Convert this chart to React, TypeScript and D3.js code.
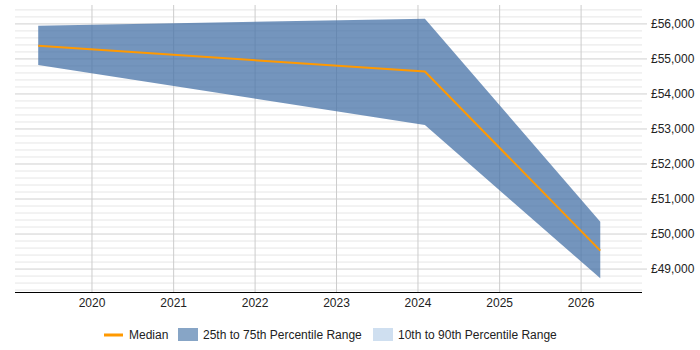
import React from 'react';
import * as d3 from 'd3';

// Salary percentiles by period end date
const dates = ['2019-05-05', '2024-02-01', '2026-03-28'];
const p25 = [54830, 53115, 48735];
const median = [55375, 54640, 49525];
const p75 = [55945, 56150, 50350];

const yearTicks = [2020, 2021, 2022, 2023, 2024, 2025, 2026];
const salaryTicks = [49000, 50000, 51000, 52000, 53000, 54000, 55000, 56000];

const legendItems = ['Median', '25th to 75th Percentile Range', '10th to 90th Percentile Range'];

const width = 700;
const height = 350;
const margin = { top: 5, right: 58, bottom: 58, left: 15 };

const parse = d3.timeParse('%Y-%m-%d');

export default function App() {
  const innerRight = width - margin.right;
  const innerBottom = height - margin.bottom;

  const x = d3
    .scaleTime()
    .domain([new Date(2019, 0, 21), new Date(2026, 9, 1)])
    .range([margin.left, innerRight]);

  const y = d3.scaleLinear().domain([48345, 56540]).range([innerBottom, margin.top]);

  const rows = dates.map((d, i) => ({
    date: parse(d) as Date,
    lo: p25[i],
    mid: median[i],
    hi: p75[i],
  }));

  const area = d3
    .area<(typeof rows)[number]>()
    .x((d) => x(d.date))
    .y0((d) => y(d.lo))
    .y1((d) => y(d.hi));

  const line = d3
    .line<(typeof rows)[number]>()
    .x((d) => x(d.date))
    .y((d) => y(d.mid));

  // minor grid every 200
  const minor = d3.range(48400, 56500, 200).filter((v) => v % 1000 !== 0);
  const fmt = (v: number) => '£' + d3.format(',')(v);

  return (
    <svg
      width={width}
      height={height}
      style={{ position: 'absolute', left: 0, top: 0, fontFamily: 'Liberation Sans, Arial, sans-serif' }}
    >
      <rect width={width} height={height} fill="#fff" />
      {minor.map((v) => (
        <line key={v} x1={margin.left} x2={innerRight} y1={y(v)} y2={y(v)} stroke="#e6e6e6" strokeWidth={1} />
      ))}
      {salaryTicks.map((v) => (
        <line key={v} x1={margin.left} x2={innerRight + 5} y1={y(v)} y2={y(v)} stroke="#d0d0d0" strokeWidth={1} />
      ))}
      {yearTicks.map((yr) => (
        <line
          key={yr}
          x1={x(new Date(yr, 0, 1))}
          x2={x(new Date(yr, 0, 1))}
          y1={margin.top}
          y2={innerBottom}
          stroke="#cccccc"
          strokeWidth={1}
        />
      ))}
      <path d={area(rows) || ''} fill="#4572a7" fillOpacity={0.75} />
      <path d={line(rows) || ''} fill="none" stroke="#ff9900" strokeWidth={2} />
      <line x1={margin.left} x2={innerRight} y1={innerBottom + 0.5} y2={innerBottom + 0.5} stroke="#000" strokeWidth={1} />
      {yearTicks.map((yr) => (
        <text key={yr} x={x(new Date(yr, 0, 1))} y={innerBottom + 15} textAnchor="middle" fontSize={12} fill="#222">
          {yr}
        </text>
      ))}
      {salaryTicks.map((v) => (
        <text key={v} x={innerRight + 9} y={y(v) + 4} fontSize={12} fill="#222">
          {fmt(v)}
        </text>
      ))}
      <g fontSize={12} fill="#222">
        <line x1={104} x2={123} y1={335} y2={335} stroke="#ff9900" strokeWidth={3} />
        <text x={129} y={339}>{legendItems[0]}</text>
        <rect x={178} y={328} width={20} height={13} fill="#87a5c6" />
        <text x={203} y={339}>{legendItems[1]}</text>
        <rect x={373} y={328} width={20} height={13} fill="#cfdff0" />
        <text x={398} y={339}>{legendItems[2]}</text>
      </g>
    </svg>
  );
}
